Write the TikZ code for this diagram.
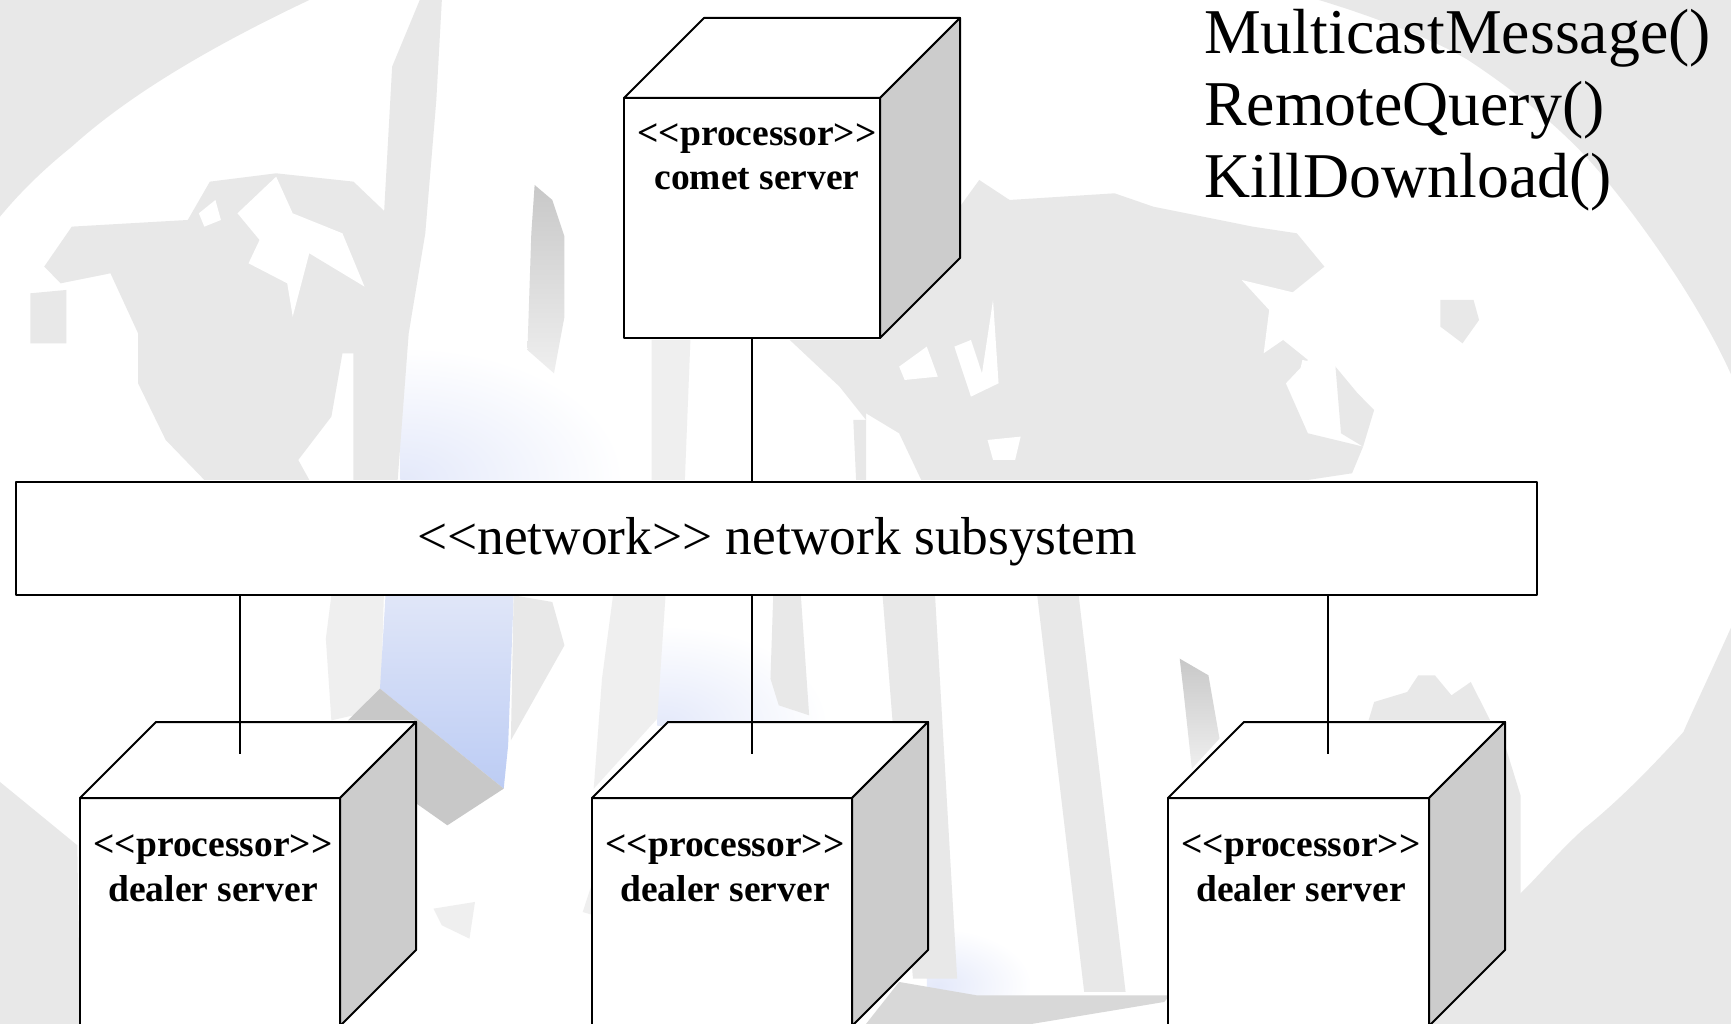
\documentclass[tikz,border=0pt]{standalone}
\usepackage{fontspec}
\setmainfont{Liberation Serif}
\definecolor{wm}{HTML}{E8E8E8}
\definecolor{wmpale}{HTML}{EFEFEF}
\definecolor{wmdark}{HTML}{C8C8C8}
\definecolor{sidegrey}{HTML}{CCCCCC}
\definecolor{bluetop}{HTML}{E0E6F8}
\definecolor{bluebot}{HTML}{BCCCF4}
\definecolor{bluepale}{HTML}{E4E9FA}
\tikzset{
  q1/.style={shift={(0,0)},xscale=0.5523,yscale=0.3333},
  q2/.style={shift={(866,0)},xscale=0.5523,yscale=0.3333},
  q3/.style={shift={(0,512)},xscale=0.5523,yscale=0.3333},
  q4/.style={shift={(866,512)},xscale=0.5523,yscale=0.3333},
  boxline/.style={draw=black,line width=2pt,line join=round},
  frontface/.style={boxline,fill=white,rectangle,inner sep=0pt,outer sep=0pt},
  wire/.style={draw=black,line width=1.7pt},
  proclabel/.style={anchor=base,inner sep=0pt,font=\fontsize{37.5}{44}\selectfont\bfseries},
  biglabel/.style={anchor=base west,inner sep=0pt,font=\fontsize{63.8}{72}\selectfont},
}
\newcommand{\procbox}[6]{% name, left, top, width, height, depth
  \node[frontface,anchor=north west,minimum width=#4pt,minimum height=#5pt] (#1) at (#2,#3) {};
  \draw[boxline,fill=white] (#1.north west) -- ++(#6,-#6) -- ++(#4,0) -- (#1.north east) -- cycle;
  \draw[boxline,fill=sidegrey] (#1.north east) -- ++(#6,-#6) -- ++(0,#5) -- (#1.south east) -- cycle;
}
\begin{document}
\begin{tikzpicture}[x=1pt,y=-1pt]
\useasboundingbox (0,0) rectangle (1731,1024);
\clip (0,0) rectangle (1731,1024);
\fill[white] (0,0) rectangle (1731,1024);
% ---- soft blue glows, under everything else
\begin{scope}[q1]
  \clip (725,900) rectangle (1200,1440);
  \shade[inner color=bluepale,outer color=white] (730,1440) circle (400);
\end{scope}
\begin{scope}[q3]
  \clip (1190,250) rectangle (1500,640);
  \shade[inner color=bluepale,outer color=white] (1200,640) circle (300);
\end{scope}
\begin{scope}[q4]
  \clip (110,1000) rectangle (320,1536);
  \shade[inner color=bluepale,outer color=white] (130,1420) circle (170);
\end{scope}
% ---- watermark, upper left
\begin{scope}[q1]
  \fill[wm] (0,0) -- (560,0) .. controls (420,110) and (250,260) .. (130,440) .. controls (70,520) and (30,590) .. (0,650) -- cycle;
  \fill[wm] (760,0) -- (800,0) -- (790,300) -- (770,700) -- (740,1000) -- (720,1440) -- (640,1440) -- (640,1060) -- (690,800) -- (700,500) -- (710,200) -- cycle;
  \fill[wm] (130,680) -- (340,660) -- (380,545) -- (500,520) -- (640,545) -- (700,640) -- (700,1060) -- (620,1060) -- (600,1250) -- (540,1380) -- (560,1440) -- (370,1440) -- (300,1320) -- (250,1150) -- (250,1000) -- (200,820) -- (110,850) -- (80,800) -- cycle;
  \fill[wm] (55,880) -- (120,870) -- (120,1030) -- (55,1030) -- cycle;
  \fill[white] (500,530) -- (530,640) -- (620,700) -- (660,860) -- (560,760) -- (530,950) -- (520,850) -- (450,790) -- (470,720) -- (430,640) -- cycle;
  \fill[white] (360,640) -- (390,600) -- (400,660) -- (370,680) -- cycle;
  \shade[top color=wmdark,bottom color=wmpale] (968,555) -- (1000,600) -- (1022,710) -- (1022,950) -- (1003,1120) -- (955,1050) -- (962,700) -- cycle;
  \fill[wmpale] (1180,1020) -- (1250,1020) -- (1240,1440) -- (1180,1440) -- cycle;
  \fill[wm] (1430,1020) -- (1568,1020) -- (1568,1260) -- (1520,1160) -- cycle;
  \fill[wm] (1545,1260) -- (1568,1260) -- (1568,1440) -- (1550,1440) -- cycle;
\end{scope}
% ---- watermark, upper right
\begin{scope}[q2]
  \fill[wm] (820,0) .. controls (920,50) and (1030,120) .. (1090,180) .. controls (1200,300) and (1280,420) .. (1330,520) .. controls (1430,720) and (1520,950) .. (1568,1130) -- (1568,0) -- cycle;
  \fill[wm] (170,620) -- (205,540) -- (260,600) -- (450,580) -- (520,620) -- (700,680) -- (780,700) -- (830,800) -- (770,880) -- (740,1000) -- (800,1080) -- (760,1150) -- (800,1300) -- (900,1340) -- (880,1420) -- (800,1440) -- (100,1440) -- (60,1300) -- (0,1240) -- (-100,1020) -- (25,1020) -- (170,770) -- cycle;
  \fill[white] (60,1100) -- (110,1040) -- (130,1130) -- (70,1140) -- cycle;
  \fill[white] (160,1040) -- (190,1020) -- (210,1120) -- (230,900) -- (240,1150) -- (190,1190) -- cycle;
  \fill[white] (680,840) -- (780,880) -- (790,980) -- (720,1060) -- (730,930) -- cycle;
  \fill[white] (790,1080) -- (820,1090) -- (860,1200) -- (830,1300) -- (780,1160) -- cycle;
  \fill[white] (220,1320) -- (280,1310) -- (270,1380) -- (230,1380) -- cycle;
  \fill[wm] (850,1100) -- (890,1180) -- (920,1230) -- (900,1340) -- (860,1300) -- cycle;
  \fill[wm] (1040,900) -- (1100,900) -- (1110,960) -- (1080,1030) -- (1040,980) -- cycle;
\end{scope}
% ---- watermark, lower left
\begin{scope}[q3]
  \fill[wm] (0,810) -- (140,1000) -- (145,1536) -- (0,1536) -- cycle;
  \fill[wmpale] (600,250) -- (695,250) -- (690,530) -- (640,610) -- (600,625) -- (590,380) -- cycle;
  \shade[top color=bluetop,bottom color=bluebot] (698,250) -- (930,250) -- (920,700) -- (912,830) -- (688,530) -- cycle;
  \fill[wmdark] (688,530) -- (912,830) -- (810,940) -- (750,870) -- (750,625) -- (630,625) -- cycle;
  \fill[wm] (930,250) -- (1000,270) -- (1022,400) -- (925,685) -- cycle;
  \fill[wmpale] (1110,250) -- (1205,250) -- (1190,620) -- (1075,830) -- (1090,500) -- cycle;
  \fill[wm] (1400,250) -- (1450,250) -- (1465,610) -- (1410,580) -- (1395,500) -- cycle;
  \fill[wmpale] (785,1190) -- (860,1170) -- (850,1280) -- (800,1240) -- cycle;
  \fill[wmpale] (1055,1200) -- (1075,1100) -- (1075,1210) -- cycle;
\end{scope}
% ---- watermark, lower right
\begin{scope}[q4]
  \fill[wm] (30,250) -- (125,250) -- (165,1400) -- (85,1400) -- cycle;
  \fill[wm] (310,250) -- (385,250) -- (470,1440) -- (395,1440) -- cycle;
  \fill[wmdark!70!white] (60,1410) -- (200,1450) -- (550,1450) -- (540,1470) -- (300,1536) -- (0,1536) -- cycle;
  \shade[top color=wmdark,bottom color=wmpale] (568,440) -- (620,490) -- (640,680) -- (590,770) -- (575,540) -- cycle;
  \fill[wm] (910,625) -- (920,570) -- (980,540) -- (1000,490) -- (1030,490) -- (1060,550) -- (1095,510) -- (1130,625) -- cycle;
  \fill[wm] (1157,700) -- (1185,850) -- (1185,1180) -- (1157,1200) -- cycle;
  \fill[wm] (1568,340) .. controls (1530,480) and (1490,620) .. (1480,660) .. controls (1420,770) and (1360,870) .. (1300,950) .. controls (1240,1040) and (1200,1130) .. (1160,1180) -- (1020,1330) -- (1020,1536) -- (1568,1536) -- cycle;
\end{scope}

% ---- diagram
\procbox{comet}{624}{98}{256}{240}{80}
\procbox{dealerA}{80}{798}{260}{228}{76}
\procbox{dealerB}{592}{798}{260}{228}{76}
\procbox{dealerC}{1168}{798}{261}{228}{76}

\node[frontface,anchor=north west,minimum width=1521pt,minimum height=113pt] (net) at (15.5,481.5) {};
\node[anchor=base,inner sep=0pt,font=\fontsize{53.4}{60}\selectfont] (nettext) at (777,554) {<{}<network>{}> network subsystem};

\coordinate (endA) at (240,754);
\coordinate (endB) at (752,754);
\coordinate (endC) at (1328,754);
\draw[wire] (comet.south) -- (comet.south |- net.north);
\draw[wire] (net.south -| endA) -- (endA);
\draw[wire] (net.south -| endB) -- (endB);
\draw[wire] (net.south -| endC) -- (endC);

\node[proclabel] (cometA) at (757,146) {<{}<processor>{}>};
\node[proclabel] (cometB) at (757,189.5) {comet server};
\node[proclabel] (dAa) at (213,856) {<{}<processor>{}>};
\node[proclabel] (dAb) at (213,901) {dealer server};
\node[proclabel] (dBa) at (725,856) {<{}<processor>{}>};
\node[proclabel] (dBb) at (725,901) {dealer server};
\node[proclabel] (dCa) at (1301,856) {<{}<processor>{}>};
\node[proclabel] (dCb) at (1301,901) {dealer server};

\node[biglabel] (mA) at (1204,54) {MulticastMessage()};
\node[biglabel] (mB) at (1204,126) {RemoteQuery()};
\node[biglabel] (mC) at (1204,198) {KillDownload()};
\end{tikzpicture}
\end{document}
